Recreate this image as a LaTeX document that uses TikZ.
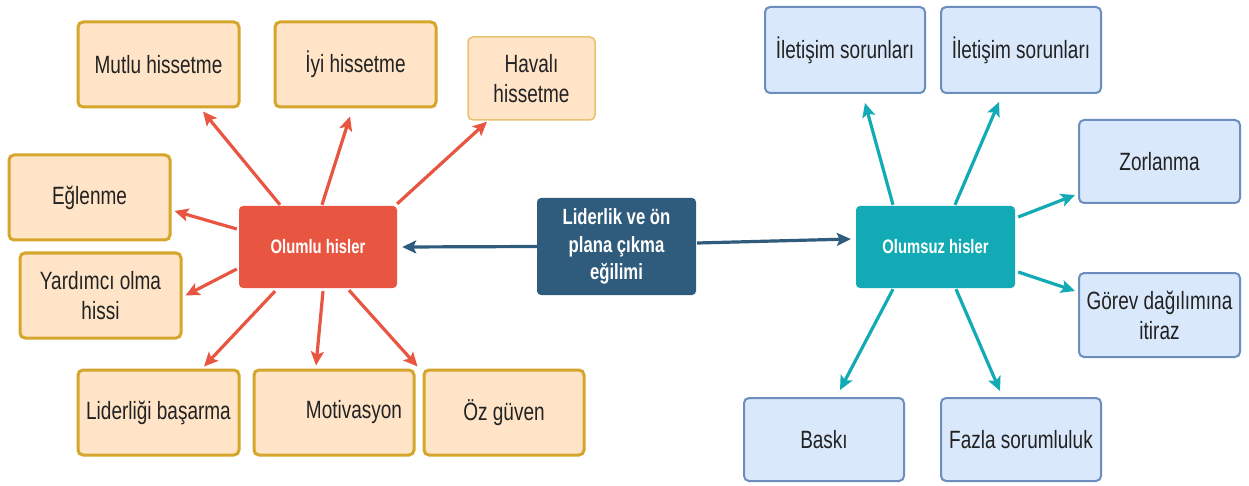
\documentclass[tikz,border=0pt]{standalone}
\usepackage{fontspec}
\setmainfont{Liberation Sans}[FakeStretch=0.76]
\usetikzlibrary{arrows.meta,calc}
\definecolor{peachfill}{HTML}{FFE4C8}
\definecolor{goldline}{HTML}{D5A62B}
\definecolor{softgold}{HTML}{E6C36E}
\definecolor{bluefill}{HTML}{DAE8FC}
\definecolor{blueline}{HTML}{6C8EBF}
\definecolor{warmred}{HTML}{E85642}
\definecolor{tealc}{HTML}{12AAB5}
\definecolor{navy}{HTML}{2F5B7C}
\definecolor{textgray}{HTML}{222222}
\begin{document}
\begin{tikzpicture}[x=1pt,y=-1pt,
  box/.style={rounded corners=5pt, align=center, inner sep=0pt, text=textgray,
    font=\fontsize{25}{30}\selectfont},
  warm/.style={box, fill=peachfill, draw=goldline, line width=3pt},
  cool/.style={box, fill=bluefill, draw=blueline, line width=2pt},
  hub/.style={rounded corners=4pt, align=center, inner sep=0pt, text=white,
    font=\fontsize{19.5}{24}\selectfont\bfseries},
  link/.style={line width=3.2pt, -{Stealth[length=14pt,width=13pt,inset=3pt]}},
]
% canvas
\fill[white] (0,0) rectangle (1249,486);
\useasboundingbox (0,0) rectangle (1249,486);

% hubs
\node[hub, fill=warmred, minimum width=158pt, minimum height=82pt] (olumlu) at (318,247) {Olumlu hisler};
\node[hub, fill=navy, minimum width=159pt, minimum height=97pt,
  font=\fontsize{22}{27.5}\selectfont\bfseries] (center) at (616.5,246.5) {Liderlik ve ön\\plana çıkma\\eğilimi};
\node[hub, fill=tealc, minimum width=159pt, minimum height=82pt] (olumsuz) at (935.5,247) {Olumsuz hisler};

% positive feelings
\node[warm, minimum width=161pt, minimum height=85pt] (mutlu) at (158.5,64.5) {Mutlu hissetme};
\node[warm, minimum width=161pt, minimum height=85pt] (iyi) at (355.5,64.5) {İyi hissetme};
\node[warm, draw=softgold, line width=1.5pt, minimum width=127pt, minimum height=83pt] (havali) at (531.5,78.5) {Havalı\\hissetme};
\node[warm, minimum width=161pt, minimum height=85pt] (eglenme) at (89.5,197.5) {Eğlenme};
\node[warm, minimum width=161pt, minimum height=85pt] (yardimci) at (100.5,295.5) {Yardımcı olma\\hissi};
\node[warm, minimum width=161pt, minimum height=85pt] (liderligi) at (158.5,412.5) {Liderliği başarma};
\node[warm, minimum width=160pt, minimum height=85pt] (motivasyon) at (334,412.5) {\hspace*{40pt}Motivasyon};
\node[warm, minimum width=160pt, minimum height=85pt] (ozguven) at (504,412.5) {Öz güven};

% negative feelings
\node[cool, minimum width=160pt, minimum height=86pt] (ilet1) at (845,50) {İletişim sorunları};
\node[cool, minimum width=160pt, minimum height=86pt] (ilet2) at (1021,50) {İletişim sorunları};
\node[cool, minimum width=161pt, minimum height=83pt] (zorlanma) at (1159.5,161.5) {Zorlanma};
\node[cool, minimum width=161pt, minimum height=84pt] (gorev) at (1159.5,315) {Görev dağılımına\\itiraz};
\node[cool, minimum width=160pt, minimum height=83pt] (baski) at (824,439.5) {Baskı};
\node[cool, minimum width=160pt, minimum height=83pt] (fazla) at (1021,439.5) {Fazla sorumluluk};

% central links
\draw[link, navy] (center.west) -- ($(olumlu.east)+(5,0)$);
\draw[link, navy] ($(center.east)+(1,-3.5)$) -- ($(olumsuz.west)+(-5,-8)$);

% positive links
\begin{scope}[warmred]
\draw[link] ($(olumlu.north)+(-38,-1)$) -- ($(mutlu.south)+(44.5,3)$);
\draw[link] ($(olumlu.north)+(4,-1)$) -- ($(iyi.south)+(-5.5,8)$);
\draw[link] ($(olumlu.north east)+(0,-2)$) -- ($(havali.south)+(-44.5,1)$);
\draw[link] ($(olumlu.west)+(-2,-18)$) -- ($(eglenme.east)+(3,13.5)$);
\draw[link] ($(olumlu.west)+(-2,22)$) -- ($(yardimci.east)+(3,0)$);
\draw[link] ($(olumlu.south)+(-43,3)$) -- ($(liderligi.north)+(45.5,-2)$);
\draw[link] ($(olumlu.south)+(5,3)$) -- ($(motivasyon.north)+(-18,-3)$);
\draw[link] ($(olumlu.south)+(31,2)$) -- ($(ozguven.north west)+(-5,-2)$);
\end{scope}

% negative links
\begin{scope}[tealc]
\draw[link] ($(olumsuz.north)+(-42.5,-1)$) -- ($(ilet1.south)+(20,9)$);
\draw[link] ($(olumsuz.north)+(19.5,-1)$) -- ($(ilet2.south)+(-22,8)$);
\draw[link] ($(olumsuz.east)+(3,-30)$) -- ($(zorlanma.west)+(-3,33.5)$);
\draw[link] ($(olumsuz.east)+(3,25)$) -- ($(gorev.west)+(-3,-24)$);
\draw[link] ($(olumsuz.south)+(-42.5,1)$) -- ($(baski.north)+(16,-7)$);
\draw[link] ($(olumsuz.south)+(20.5,1)$) -- ($(fazla.north)+(-21,-6)$);
\end{scope}
\end{tikzpicture}
\end{document}
